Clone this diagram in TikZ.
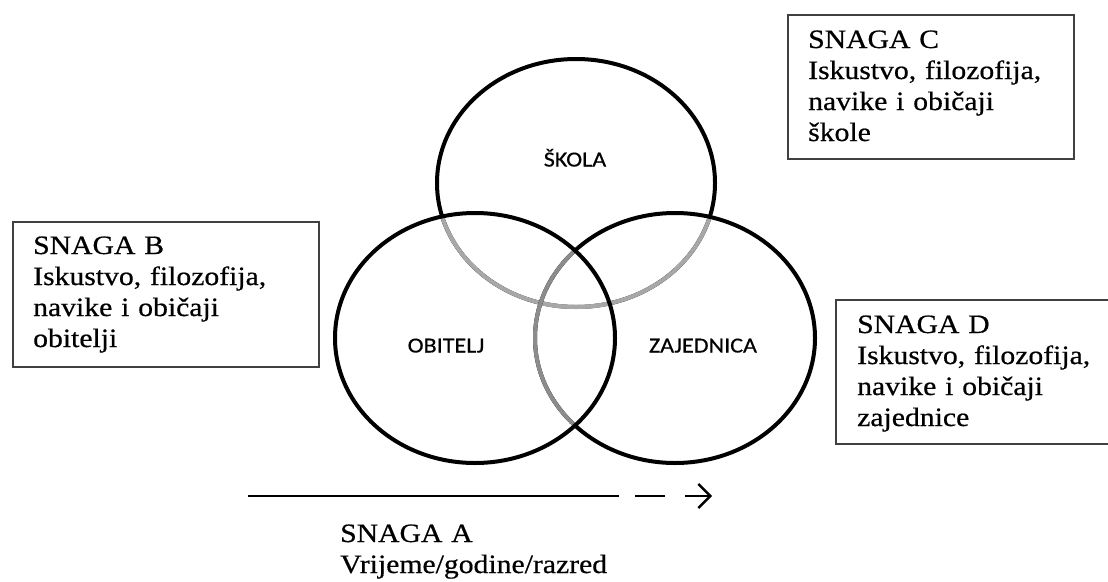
\documentclass[tikz,border=0pt]{standalone}
\usepackage{fontspec}
\usetikzlibrary{arrows.meta}
\newfontfamily\serifA[FakeStretch=1.12,FakeBold=0.6]{Liberation Serif}
\newfontfamily\sansA[FakeStretch=1.12,FakeBold=0.4]{Carlito}
\definecolor{grayTop}{HTML}{A8A8A8}
\definecolor{grayRight}{HTML}{8C8C8C}
\definecolor{boxline}{HTML}{404040}
\tikzset{
  ring/.style={line width=4pt, draw=black},
  box/.style={draw=boxline, line width=1.6pt, rectangle, inner sep=0pt},
  boxtext/.style={anchor=base west, inner sep=0pt, text width=300pt, align=left,
    font=\fontsize{26.5}{31}\serifA},
  clabel/.style={anchor=base, inner sep=0pt, font=\fontsize{21.5}{24}\sansA},
  timeline/.style={line width=2pt, draw=black}
}
\begin{document}
\begin{tikzpicture}[x=1pt,y=-1pt]
\useasboundingbox (0,0) rectangle (1108,581);
% centres
\coordinate (cS) at (576,183);
\coordinate (cO) at (475,338);
\coordinate (cZ) at (675,338);
% top ellipse (SKOLA)
\draw[ring] (cS) ellipse [x radius=139, y radius=124];
\begin{scope}
  \clip (cO) ellipse [x radius=140, y radius=125];
  \draw[ring, draw=grayTop] (cS) ellipse [x radius=139, y radius=124];
\end{scope}
\begin{scope}
  \clip (cZ) ellipse [x radius=140, y radius=125];
  \draw[ring, draw=grayTop] (cS) ellipse [x radius=139, y radius=124];
\end{scope}
% right ellipse (ZAJEDNICA)
\draw[ring] (cZ) ellipse [x radius=140, y radius=125];
\begin{scope}
  \clip (cO) ellipse [x radius=140, y radius=125];
  \draw[ring, draw=grayRight] (cZ) ellipse [x radius=140, y radius=125];
\end{scope}
% left ellipse (OBITELJ)
\draw[ring] (cO) ellipse [x radius=140, y radius=125];
% labels
\node[clabel] (lS) at (575,166.5) {ŠKOLA};
\node[clabel] (lO) at (446,352.5) {OBITELJ};
\node[clabel] (lZ) at (703,352.5) {ZAJEDNICA};
% boxes
\node[box, anchor=north west, minimum width=306pt, minimum height=145pt] (boxB) at (12,221) {};
\node[boxtext] (tB) at (33,254) {SNAGA B\\Iskustvo, filozofija,\\navike i običaji\\obitelji};
\node[box, anchor=north west, minimum width=286pt, minimum height=144pt] (boxC) at (787,14) {};
\node[boxtext] (tC) at (808,48) {SNAGA C\\Iskustvo, filozofija,\\navike i običaji\\škole};
\node[box, anchor=north west, minimum width=290pt, minimum height=144pt] (boxD) at (835,299) {};
\node[boxtext] (tD) at (857,333) {SNAGA D\\Iskustvo, filozofija,\\navike i običaji\\zajednice};
% time line
\coordinate (l1) at (248,496);
\coordinate (l2) at (619,496);
\coordinate (d1) at (635,496);
\coordinate (d2) at (665,496);
\coordinate (a1) at (685,496);
\coordinate (a2) at (712,496);
\draw[timeline] (l1) -- (l2);
\draw[timeline] (d1) -- (d2);
\draw[timeline, -{Straight Barb[length=12pt,width=24pt,line width=2.4pt]}] (a1) -- (a2);
\node[boxtext] (tA) at (340,542) {SNAGA A\\Vrijeme/godine/razred};
\end{tikzpicture}
\end{document}
